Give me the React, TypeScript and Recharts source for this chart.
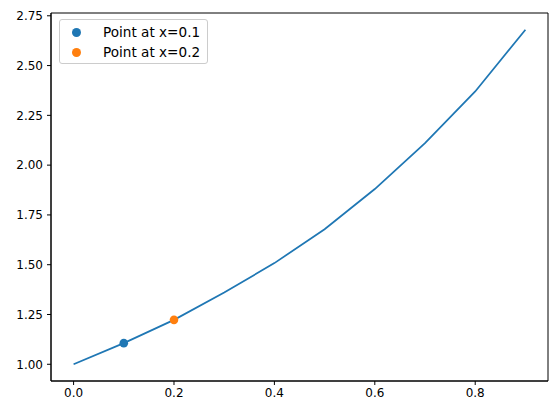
import React from 'react';
import { ComposedChart, Line, Scatter, XAxis, YAxis, Legend, ReferenceArea } from 'recharts';

const xValues = [0.0, 0.1, 0.2, 0.3, 0.4, 0.5, 0.6, 0.7, 0.8, 0.9];
const yValues = [1.0, 1.106, 1.223, 1.36, 1.508, 1.678, 1.88, 2.11, 2.37, 2.68];
const point1 = [{ x: 0.1, y: 1.106 }];
const point2 = [{ x: 0.2, y: 1.223 }];
const xTicks = [0, 0.2, 0.4, 0.6, 0.8];
const yTicks = [1.0, 1.25, 1.5, 1.75, 2.0, 2.25, 2.5, 2.75];
const xDomain = [-0.045, 0.945];
const yDomain = [0.916, 2.764];
const legendItems = [
  { label: 'Point at x=0.1', color: '#1f77b4' },
  { label: 'Point at x=0.2', color: '#ff7f0e' },
];

const lineData = xValues.map((x, i) => ({ x, y: yValues[i] }));

const FONT = '"DejaVu Sans", sans-serif';

const LegendBox = () => (
  <div
    style={{
      border: '1px solid #cccccc',
      borderRadius: 3,
      background: 'rgba(255,255,255,0.8)',
      padding: '2px 6px 0px 8px',
      fontFamily: FONT,
      fontSize: 13.6,
      color: '#000',
      width: 149,
      height: 45,
      boxSizing: 'border-box',
      whiteSpace: 'nowrap',
    }}
  >
    {legendItems.map((it) => (
      <div key={it.label} style={{ display: 'flex', alignItems: 'center', height: 20 }}>
        <span
          style={{
            display: 'inline-block',
            width: 9,
            height: 9,
            borderRadius: '50%',
            background: it.color,
            marginLeft: 4,
            marginRight: 22,
            flexShrink: 0,
          }}
        />
        <span>{it.label}</span>
      </div>
    ))}
  </div>
);

export default function App() {
  return (
    <div style={{ position: 'absolute', left: 0, top: 0 }}>
      <ComposedChart
        width={556}
        height={415}
        data={lineData}
        margin={{ top: 13, right: 8, left: 0, bottom: 0 }}
        style={{ fontFamily: FONT }}
      >
        <XAxis
          dataKey="x"
          type="number"
          domain={xDomain}
          ticks={xTicks}
          tickFormatter={(v: number) => v.toFixed(1)}
          allowDataOverflow
          height={34}
          stroke="#000"
          tick={{ fill: '#000', fontSize: 12 }}
          tickSize={4}
          tickMargin={3}
        />
        <YAxis
          type="number"
          domain={yDomain}
          ticks={yTicks}
          tickFormatter={(v: number) => v.toFixed(2)}
          allowDataOverflow
          width={51}
          stroke="#000"
          tick={{ fill: '#000', fontSize: 12 }}
          tickSize={4}
          tickMargin={4}
        />
        <ReferenceArea
          x1={xDomain[0]}
          x2={xDomain[1]}
          y1={yDomain[0]}
          y2={yDomain[1]}
          fill="none"
          fillOpacity={0}
          stroke="#000"
          strokeWidth={1}
          ifOverflow="visible"
        />
        <Line
          dataKey="y"
          stroke="#1f77b4"
          strokeWidth={1.75}
          dot={false}
          isAnimationActive={false}
        />
        <Scatter
          data={point1}
          dataKey="y"
          fill="#1f77b4"
          shape={(p: any) => <circle cx={p.cx} cy={p.cy} r={4.3} fill="#1f77b4" />}
          isAnimationActive={false}
        />
        <Scatter
          data={point2}
          dataKey="y"
          fill="#ff7f0e"
          shape={(p: any) => <circle cx={p.cx} cy={p.cy} r={4.3} fill="#ff7f0e" />}
          isAnimationActive={false}
        />
        <Legend
          layout="vertical"
          align="center"
          verticalAlign="middle"
          content={() => <LegendBox />}
          wrapperStyle={{ position: 'absolute', left: 59, top: 19, width: 'auto', height: 'auto' }}
        />
      </ComposedChart>
    </div>
  );
}
